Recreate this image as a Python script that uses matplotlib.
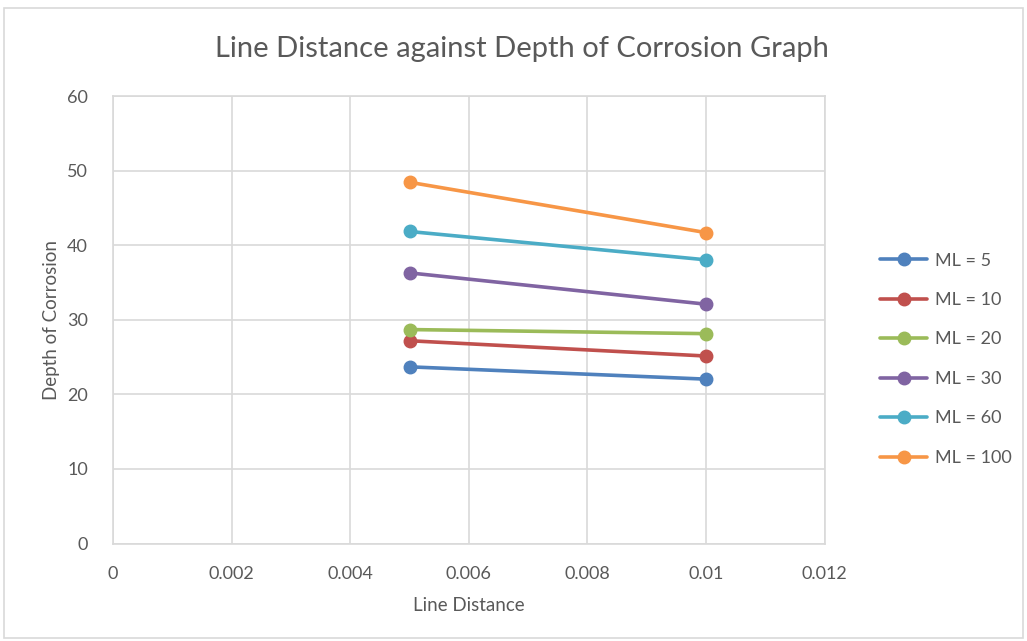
import matplotlib.pyplot as plt
from matplotlib.patches import Rectangle

# line distance for each measurement
line_distance = [0.005, 0.01]

# depth of corrosion per ML setting
ml_labels = ['ML = 5', 'ML = 10', 'ML = 20', 'ML = 30', 'ML = 60', 'ML = 100']
depth_ml5 = [23.7, 22.05]
depth_ml10 = [27.2, 25.15]
depth_ml20 = [28.7, 28.15]
depth_ml30 = [36.3, 32.1]
depth_ml60 = [41.85, 38.05]
depth_ml100 = [48.45, 41.7]

colors = ['#4F81BD', '#C0504D', '#9BBB59', '#8064A2', '#4BACC6', '#F79646']
text_color = '#595959'
grid_color = '#D9D9D9'

plt.rcParams['font.family'] = ['Lato', 'DejaVu Sans']

fig = plt.figure(figsize=(10.27, 6.41), dpi=100)
ax = fig.add_axes([0.110, 0.152, 0.693, 0.698])

series = [depth_ml5, depth_ml10, depth_ml20, depth_ml30, depth_ml60, depth_ml100]
for label, vals, c in zip(ml_labels, series, colors):
    ax.plot(line_distance, vals, color=c, lw=2.6, marker='o', markersize=9,
            label=label, solid_capstyle='round')

ax.set_xlim(0, 0.012)
ax.set_ylim(0, 60)
ax.set_xticks([0, 0.002, 0.004, 0.006, 0.008, 0.01, 0.012])
ax.set_xticklabels(['0', '0.002', '0.004', '0.006', '0.008', '0.01', '0.012'])
ax.set_yticks(range(0, 61, 10))
ax.grid(True, color=grid_color, lw=1.2)
ax.set_axisbelow(True)
for s in ax.spines.values():
    s.set_color(grid_color)
    s.set_linewidth(1.2)
ax.tick_params(length=0, labelsize=13, colors=text_color)
ax.tick_params(axis='x', pad=16)
ax.tick_params(axis='y', pad=18)

ax.set_xlabel('Line Distance', fontsize=13.5, color=text_color, labelpad=11)
ax.set_ylabel('Depth of Corrosion', fontsize=13.5, color=text_color, labelpad=5)
fig.text(0.508, 0.923, 'Line Distance against Depth of Corrosion Graph',
         ha='center', va='center', fontsize=21, color=text_color)

leg = ax.legend(loc='center left', bbox_to_anchor=(1.055, 0.412), frameon=False,
                fontsize=13, labelspacing=1.3, handlelength=2.6,
                handletextpad=0.45, labelcolor=text_color)

# light border round the whole chart
fig.patches.append(Rectangle((0.004, 0.004), 0.992, 0.984, transform=fig.transFigure,
                             fill=False, edgecolor=grid_color, lw=1.2))

fig.savefig('out.png', dpi=100)
